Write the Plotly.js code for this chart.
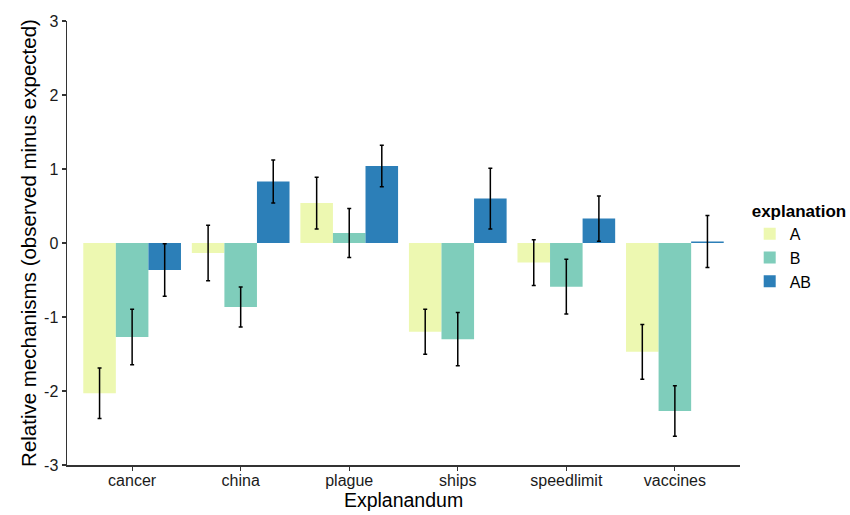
<!DOCTYPE html>
<html>
<head>
<meta charset="utf-8">
<script src="https://cdn.plot.ly/plotly-3.0.1.min.js"></script>
<style>html,body{margin:0;padding:0;background:#fff;}#chart{width:850px;height:515px;}</style>
</head>
<body>
<div id="chart"></div>
<script>
const categories = ["cancer", "china", "plague", "ships", "speedlimit", "vaccines"];
const seriesNames = ["A", "B", "AB"];
const valuesA = [-2.03, -0.135, 0.54, -1.20, -0.265, -1.47];
const valuesB = [-1.27, -0.865, 0.135, -1.30, -0.59, -2.27];
const valuesAB = [-0.365, 0.83, 1.04, 0.60, 0.33, 0.02];
const errA = [0.34, 0.375, 0.35, 0.305, 0.31, 0.37];
const errB = [0.375, 0.27, 0.33, 0.36, 0.37, 0.34];
const errAB = [0.355, 0.29, 0.28, 0.41, 0.305, 0.35];
const colors = ["#edf8b1", "#7fcdbb", "#2c7fb8"];
const yTicks = [-3, -2, -1, 0, 1, 2, 3];
const yTickText = ["-3", "-2", "-1", "0", "1", "2", "3"];

const vals = [valuesA, valuesB, valuesAB];
const errs = [errA, errB, errAB];

const traces = seriesNames.map((name, i) => ({
  type: "bar",
  name: name,
  x: categories,
  y: vals[i],
  marker: {color: colors[i], line: {width: 0}},
  error_y: {type: "data", array: errs[i], visible: true, color: "#000", thickness: 1.5, width: 2}
}));

const font = "Liberation Sans, Arial, Helvetica, sans-serif";
const layout = {
  width: 850, height: 515,
  margin: {l: 67, r: 110, t: 21, b: 50},
  paper_bgcolor: "#fff", plot_bgcolor: "#fff",
  barmode: "group", bargap: 0.1, bargroupgap: 0,
  font: {family: font, color: "#000"},
  xaxis: {
    range: [-0.6, 5.6], showgrid: false, zeroline: false,
    showline: true, linecolor: "#333", linewidth: 1.5,
    ticks: "outside", ticklen: 4, tickcolor: "#333", tickwidth: 1.2,
    ticklabelstandoff: -4,
    tickfont: {size: 16, family: font, color: "#1a1a1a"},
    title: {text: "Explanandum", font: {size: 19.5, family: font}, standoff: 0}
  },
  yaxis: {
    range: [-3, 3], tickvals: yTicks, ticktext: yTickText, showgrid: false, zeroline: false,
    showline: true, linecolor: "#333", linewidth: 1.5,
    ticks: "outside", ticklen: 4, tickcolor: "#333", tickwidth: 1.2,
    tickfont: {size: 16, family: font, color: "#1a1a1a"},
    title: {text: "Relative mechanisms (observed minus expected)", font: {size: 20.5, family: font}, standoff: 2}
  },
  legend: {
    xref: "container", yref: "container",
    x: 0.882, xanchor: "left", y: 0.622, yanchor: "top",
    title: {text: "<b>explanation</b>", font: {size: 17, family: font}},
    font: {size: 16, family: font}, tracegroupgap: 0, itemwidth: 30
  },
  showlegend: true
};

Plotly.newPlot("chart", traces, layout, {displayModeBar: false, staticPlot: true});
</script>
</body>
</html>
